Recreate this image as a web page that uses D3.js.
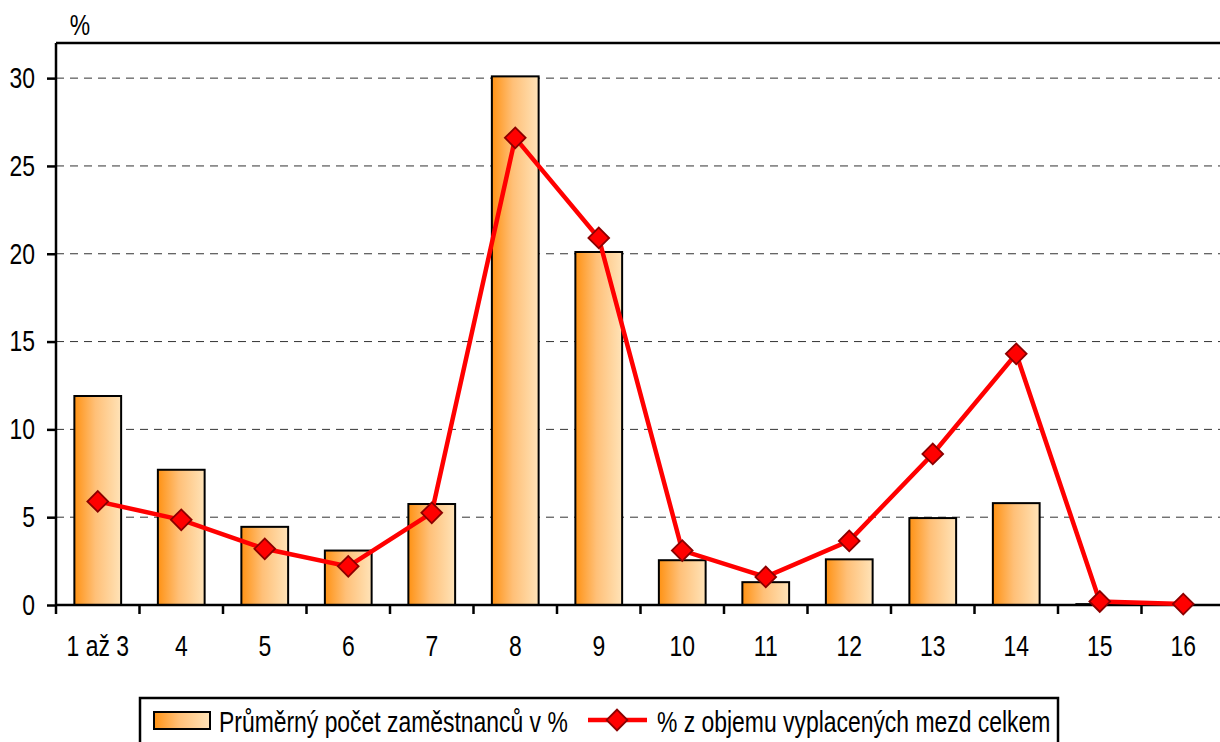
<!DOCTYPE html>
<html><head><meta charset="utf-8">
<script src="https://cdn.jsdelivr.net/npm/d3@7"></script>
<style>body{margin:0;background:#fff}svg{display:block}</style>
</head><body>
<svg id="c" width="1220" height="742"></svg>
<script>
const categories = ["1 až 3","4","5","6","7","8","9","10","11","12","13","14","15","16"];
const employees = [11.9,7.7,4.45,3.1,5.75,30.1,20.1,2.55,1.3,2.6,4.95,5.8,0.05,0];
const wages = [5.9,4.85,3.2,2.2,5.25,26.6,20.9,3.1,1.6,3.65,8.6,14.3,0.2,0.05];
const yTicks = [0,5,10,15,20,25,30];
const seriesNames = ["Průměrný počet zaměstnanců v %","% z objemu vyplacených mezd celkem"];
const yUnit = "%";

const FONT = "'Liberation Sans',Arial,sans-serif";
const FS = 29, SX = 0.79;
const svg = d3.select("#c");
const L = 56, T = 43, R = 1225, B = 605;
const x = d3.scaleBand().domain(categories).range([L, R]).paddingInner(0.44).paddingOuter(0.22);
const xb = d3.scaleBand().domain(categories).range([L, R]);
const y = d3.scaleLinear().domain([0, 32]).range([B, T]);

function narrow(sel){
  sel.each(function(){
    const t = d3.select(this);
    const xv = +(t.attr("x")||0);
    t.attr("x", xv/SX).attr("transform", `scale(${SX},1)`)
     .attr("font-family",FONT).attr("font-size",FS).attr("fill","#000");
  });
}
function ntext(parent, px, py, str, anchor){
  return parent.append("text").attr("transform",`translate(${px},${py}) scale(${SX},1)`)
    .attr("text-anchor",anchor||"start").attr("font-family",FONT).attr("font-size",FS).attr("fill","#000").text(str);
}

const defs = svg.append("defs");
const g = defs.append("linearGradient").attr("id","bg").attr("x1","0").attr("x2","1").attr("y1","0").attr("y2","0");
g.append("stop").attr("offset","0").attr("stop-color","#FF9214");
g.append("stop").attr("offset","0.45").attr("stop-color","#FFC078");
g.append("stop").attr("offset","1").attr("stop-color","#FFE3B8");

// gridlines
svg.append("g").selectAll("line").data(yTicks.filter(d=>d>0)).join("line")
  .attr("x1",L).attr("x2",R).attr("y1",d=>y(d)).attr("y2",d=>y(d))
  .attr("stroke","#333").attr("stroke-width",1).attr("stroke-dasharray","8,6");

// top border
svg.append("line").attr("x1",L).attr("x2",R).attr("y1",T).attr("y2",T).attr("stroke","#000").attr("stroke-width",2.5);

// bars
svg.append("g").selectAll("rect").data(employees.map((v,i)=>({c:categories[i],v}))).join("rect")
  .attr("x",d=>x(d.c)).attr("width",x.bandwidth())
  .attr("y",d=>y(d.v)).attr("height",d=>B-y(d.v))
  .attr("fill","url(#bg)").attr("stroke","#000").attr("stroke-width",2);

// y axis
const ya = svg.append("g").attr("transform",`translate(${L},0)`)
  .call(d3.axisLeft(y).tickValues(yTicks).tickSize(9).tickPadding(12));
ya.select(".domain").attr("d",`M0,${T}V${B}`).attr("stroke","#000").attr("stroke-width",2.5);
ya.selectAll(".tick line").attr("stroke","#000").attr("stroke-width",2.5);
narrow(ya.selectAll("text"));

// x axis
const xa = svg.append("g").attr("transform",`translate(0,${B})`)
  .call(d3.axisBottom(xb).tickSize(0).tickPadding(30));
xa.select(".domain").attr("d",`M${L},0H${R}`).attr("stroke","#000").attr("stroke-width",2.5);
narrow(xa.selectAll("text"));
svg.append("g").selectAll("line").data(categories).join("line")
  .attr("x1",d=>xb(d)).attr("x2",d=>xb(d)).attr("y1",B).attr("y2",B+9)
  .attr("stroke","#000").attr("stroke-width",2.5);

// unit label
ntext(svg, 80, 35, yUnit, "middle");

// line
const cx = c => xb(c) + xb.bandwidth()/2;
svg.append("path").datum(wages.map((v,i)=>[cx(categories[i]), y(v)]))
  .attr("d", d3.line()).attr("fill","none").attr("stroke","#FF0000").attr("stroke-width",4.5);
const diamond = d3.symbol().type(d3.symbolSquare).size(215);
svg.append("g").selectAll("path").data(wages.map((v,i)=>({c:categories[i],v}))).join("path")
  .attr("d",diamond).attr("transform",d=>`translate(${cx(d.c)},${y(d.v)}) rotate(45)`)
  .attr("fill","#FF0000").attr("stroke","#8B0000").attr("stroke-width",1.8);

// legend
const lg = svg.append("g");
lg.append("rect").attr("x",140).attr("y",698).attr("width",918).attr("height",60)
  .attr("fill","#fff").attr("stroke","#000").attr("stroke-width",2.5);
lg.append("rect").attr("x",154).attr("y",712).attr("width",56).attr("height",17)
  .attr("fill","url(#bg)").attr("stroke","#000").attr("stroke-width",2);
ntext(lg, 219, 732, seriesNames[0]);
lg.append("line").attr("x1",588).attr("x2",647).attr("y1",720).attr("y2",720).attr("stroke","#FF0000").attr("stroke-width",4.5);
lg.append("path").attr("d",diamond).attr("transform","translate(617,720) rotate(45)")
  .attr("fill","#FF0000").attr("stroke","#8B0000").attr("stroke-width",1.8);
ntext(lg, 657, 732, seriesNames[1]);
</script>
</body></html>
